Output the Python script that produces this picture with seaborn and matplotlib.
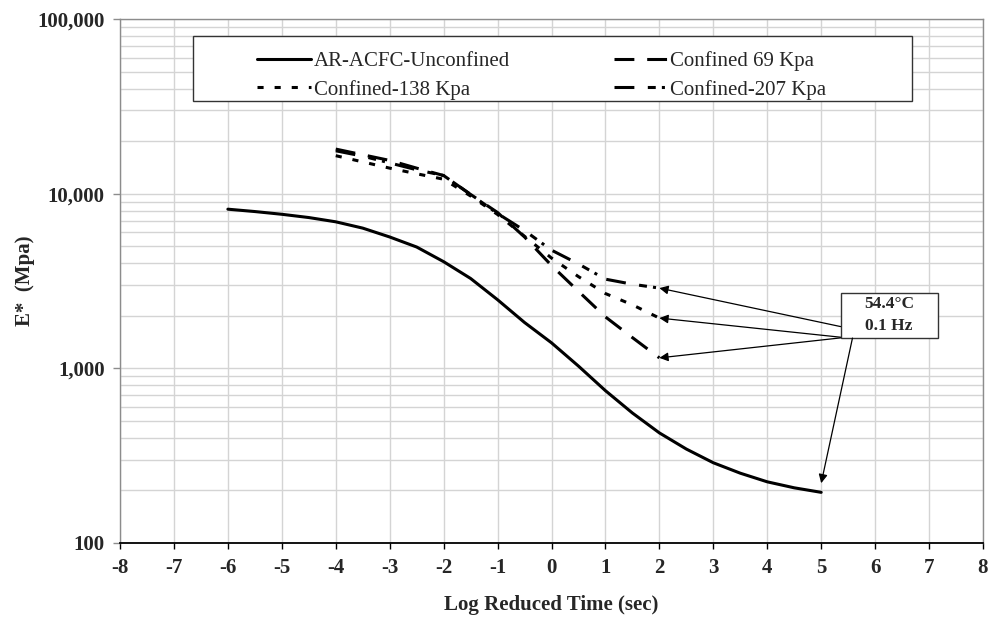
import numpy as np
import pandas as pd
import matplotlib.pyplot as plt
import seaborn as sns
from matplotlib.patches import Rectangle
from matplotlib.ticker import FuncFormatter, LogLocator, NullFormatter

# --- Data ---
time_unconf = [-6, -5.5, -5, -4.5, -4, -3.5, -3, -2.5, -2, -1.5, -1, -0.5,
               0, 0.5, 1, 1.5, 2, 2.5, 3, 3.5, 4, 4.5, 5]
e_unconf = [8150, 7900, 7620, 7300, 6900, 6350, 5650, 4950, 4080, 3270, 2470, 1830,
            1400, 1030, 745, 555, 427, 345, 288, 251, 224, 207, 195]

time_conf = [-4, -3.5, -3, -2.5, -2, -1.5, -1, -0.5, 0, 0.5, 1, 1.5, 2]
e_69 = [18000, 16700, 15500, 14000, 12700, 9900, 7800, 5650, 3880, 2760, 1970, 1500, 1148]
e_138 = [16500, 15200, 14000, 13000, 12100, 9700, 7600, 5700, 4280, 3350, 2680, 2310, 1940]
e_207 = [17600, 16400, 15000, 13700, 12700, 9900, 7700, 6150, 4750, 3960, 3240, 3030, 2880]

labels = ['AR-ACFC-Unconfined', 'Confined-138 Kpa', 'Confined 69 Kpa', 'Confined-207 Kpa']
x_ticks = list(range(-8, 9))
note_text = '54.4°C\n0.1 Hz'

# --- Long table for seaborn ---
df = pd.concat([
    pd.DataFrame({'t': time_unconf, 'E': e_unconf, 'series': labels[0]}),
    pd.DataFrame({'t': time_conf, 'E': e_138, 'series': labels[1]}),
    pd.DataFrame({'t': time_conf, 'E': e_69, 'series': labels[2]}),
    pd.DataFrame({'t': time_conf, 'E': e_207, 'series': labels[3]}),
])

sns.set_style("white")
plt.rcParams['font.family'] = ['Liberation Serif', 'DejaVu Serif']

fig = plt.figure(figsize=(9.9, 6.21), dpi=100)
ax = fig.add_axes([120 / 990, 1 - 543 / 621, 863 / 990, 524 / 621])

dash_styles = {
    labels[0]: '',
    labels[1]: (2.0, 3.6),
    labels[2]: (6.5, 4.2),
    labels[3]: (6.5, 4.4, 2.6, 2.0, 1.0, 3.4),
}
sns.lineplot(data=df, x='t', y='E', hue='series', style='series',
             hue_order=labels, style_order=labels,
             palette=['black'] * 4, dashes=dash_styles,
             linewidth=2.2, ax=ax, zorder=3)

# --- Axes, scales and grid ---
ax.set_yscale('log')
ax.set_xlim(-8, 8)
ax.set_ylim(100, 100000)
ax.set_xticks(x_ticks)
ax.set_xticklabels([str(v) for v in x_ticks])
ax.yaxis.set_major_locator(LogLocator(base=10, numticks=10))
ax.yaxis.set_minor_locator(LogLocator(base=10, subs=np.arange(2, 10), numticks=20))
ax.yaxis.set_major_formatter(FuncFormatter(lambda v, p: f'{int(v):,}'))
ax.yaxis.set_minor_formatter(NullFormatter())
ax.grid(True, which='both', axis='y', color='#d4d4d4', linewidth=1)
ax.grid(True, which='major', axis='x', color='#d4d4d4', linewidth=1)
ax.set_axisbelow(True)

for side in ['top', 'right', 'left']:
    ax.spines[side].set_color('#8c8c8c')
    ax.spines[side].set_linewidth(1)
ax.spines['bottom'].set_color('black')
ax.spines['bottom'].set_linewidth(1.3)
ax.tick_params(axis='x', which='major', direction='out', length=4, width=1,
               color='black', labelsize=15, pad=7, bottom=True)
ax.tick_params(axis='y', which='major', direction='out', length=5, width=1,
               color='#8c8c8c', labelsize=15, pad=6, left=True)
ax.tick_params(axis='y', which='minor', length=0)
for lab in ax.get_xticklabels() + ax.get_yticklabels():
    lab.set_fontweight('bold')

ax.set_xlabel('Log Reduced Time (sec)', fontsize=15, fontweight='bold', labelpad=12)
ax.set_ylabel('E*  (Mpa)', fontsize=15, fontweight='bold', labelpad=2)

# --- Legend inside a plain box ---
handles, leg_labels = ax.get_legend_handles_labels()
ax.get_legend().remove()
ax.add_patch(Rectangle((73 / 863, 1 - 82 / 524), 719 / 863, 65 / 524,
                       transform=ax.transAxes, facecolor='white',
                       edgecolor='#333333', linewidth=1, zorder=4))
leg = ax.legend(handles, leg_labels, ncol=2, loc='upper left',
                bbox_to_anchor=(127 / 863, 1 - 22 / 524), frameon=False,
                borderpad=0, handlelength=2.55, handletextpad=0.15,
                columnspacing=5.0, labelspacing=0.4, fontsize=15)
leg.set_zorder(5)

# --- Note box with arrows to the curve ends ---
ax.add_patch(Rectangle((721 / 863, 1 - 319 / 524), 97 / 863, 45 / 524,
                       transform=ax.transAxes, facecolor='white',
                       edgecolor='#333333', linewidth=1, zorder=4))
ax.text(6.257, 2020, note_text, ha='center', va='center', fontsize=12.5,
        fontweight='bold', linespacing=1.5, zorder=5)

arrow_props = dict(arrowstyle='-|>', color='black', lw=0.9,
                   mutation_scale=13, shrinkA=0, shrinkB=0)
ax.annotate('', xy=(time_conf[-1], e_207[-1]), xytext=(5.36, 1734),
            arrowprops=arrow_props, zorder=6)
ax.annotate('', xy=(time_conf[-1], e_138[-1]), xytext=(5.36, 1507),
            arrowprops=arrow_props, zorder=6)
ax.annotate('', xy=(time_conf[-1], e_69[-1]), xytext=(5.36, 1494),
            arrowprops=arrow_props, zorder=6)
ax.annotate('', xy=(time_unconf[-1], 220), xytext=(5.58, 1490),
            arrowprops=arrow_props, zorder=6)

plt.savefig('out.png', dpi=100)
